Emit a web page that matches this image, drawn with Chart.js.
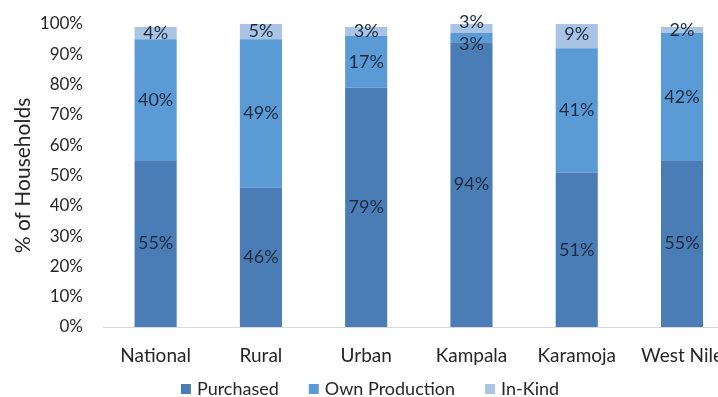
<!DOCTYPE html>
<html>
<head>
<meta charset="utf-8">
<script src="https://cdn.jsdelivr.net/npm/chart.js@4.4.1/dist/chart.umd.min.js"></script>
<style>
  html, body { margin: 0; padding: 0; background: #fff; overflow: hidden; }
  #wrap { width: 740px; height: 397px; position: relative; }
</style>
</head>
<body>
<div id="wrap"><canvas id="foodSource"></canvas></div>
<script>
const categories = ['National', 'Rural', 'Urban', 'Kampala', 'Karamoja', 'West Nile'];
const purchased = [55, 46, 79, 94, 51, 55];
const ownProduction = [40, 49, 17, 3, 41, 42];
const inKind = [4, 5, 3, 3, 9, 2];
const yTicks = [0, 10, 20, 30, 40, 50, 60, 70, 80, 90, 100];

const FONT = 'Lato, "Open Sans", sans-serif';

// value labels in the middle of each segment, spread apart when they crowd
const segmentLabels = {
    id: 'segmentLabels',
    afterDatasetsDraw(chart) {
        const ctx = chart.ctx;
        ctx.save();
        ctx.font = '18px ' + FONT;
        ctx.fillStyle = '#1c2b3f';
        ctx.textAlign = 'center';
        ctx.textBaseline = 'middle';
        const minGap = 22;
        chart.data.labels.forEach((_, i) => {
            const items = [];
            chart.data.datasets.forEach((ds, d) => {
                const bar = chart.getDatasetMeta(d).data[i];
                items.push({ x: bar.x, y: (bar.y + bar.base) / 2, text: ds.data[i] + '%' });
            });
            for (let k = 1; k < items.length; k++) {
                const a = items[k - 1], b = items[k];
                if (a.y - b.y < minGap) {
                    const mid = (a.y + b.y) / 2;
                    a.y = mid + minGap / 2;
                    b.y = mid - minGap / 2;
                }
            }
            items.forEach(it => ctx.fillText(it.text, it.x, it.y));
        });
        ctx.restore();
    }
};

// legend row under the axis labels, centred on the canvas
const bottomLegend = {
    id: 'bottomLegend',
    afterDraw(chart) {
        const ctx = chart.ctx;
        ctx.save();
        ctx.font = '18px ' + FONT;
        ctx.textBaseline = 'middle';
        const box = 10, boxGap = 6, itemGap = 30;
        const ds = chart.data.datasets;
        let total = 0;
        ds.forEach((d, i) => {
            total += box + boxGap + ctx.measureText(d.label).width + (i < ds.length - 1 ? itemGap : 0);
        });
        let x = chart.width / 2 - total / 2;
        const y = 389;
        ds.forEach(d => {
            ctx.fillStyle = d.backgroundColor;
            ctx.fillRect(x, y - box / 2, box, box);
            x += box + boxGap;
            ctx.fillStyle = '#262626';
            ctx.fillText(d.label, x, y);
            x += ctx.measureText(d.label).width + itemGap;
        });
        ctx.restore();
    }
};

new Chart(document.getElementById('foodSource').getContext('2d'), {
    type: 'bar',
    data: {
        labels: categories,
        datasets: [
            { label: 'Purchased', data: purchased, backgroundColor: '#4a7db5' },
            { label: 'Own Production', data: ownProduction, backgroundColor: '#5b9bd5' },
            { label: 'In-Kind', data: inKind, backgroundColor: '#a9c4e4' }
        ]
    },
    options: {
        responsive: true,
        maintainAspectRatio: false,
        animation: false,
        datasets: {
            bar: { barPercentage: 0.4, categoryPercentage: 1.0 }
        },
        layout: { padding: { left: 11, top: 24, right: 0, bottom: 0 } },
        plugins: {
            legend: { display: false },
            tooltip: { enabled: false }
        },
        scales: {
            x: {
                stacked: true,
                grid: { display: false, drawTicks: false },
                border: { display: true, color: '#d9d9d9', width: 1 },
                ticks: {
                    padding: 17,
                    color: '#262626',
                    font: { family: FONT, size: 19 }
                },
                afterFit(scale) { scale.height = 70; }
            },
            y: {
                stacked: true,
                min: 0,
                max: 100,
                afterBuildTicks(scale) {
                    scale.ticks = yTicks.map(v => ({ value: v }));
                },
                grid: { display: false, drawTicks: false },
                border: { display: false },
                ticks: {
                    padding: 20,
                    color: '#262626',
                    font: { family: FONT, size: 17 },
                    callback: v => v + '%'
                },
                title: {
                    display: true,
                    text: '% of Households',
                    color: '#262626',
                    font: { family: FONT, size: 21 },
                    padding: 0
                },
                afterFit(scale) {
                    scale.width = 92;
                    // the tick padding only pushes labels sideways here
                    scale.paddingTop = 10;
                    scale.paddingBottom = 10;
                }
            }
        }
    },
    plugins: [segmentLabels, bottomLegend]
});
</script>
</body>
</html>
